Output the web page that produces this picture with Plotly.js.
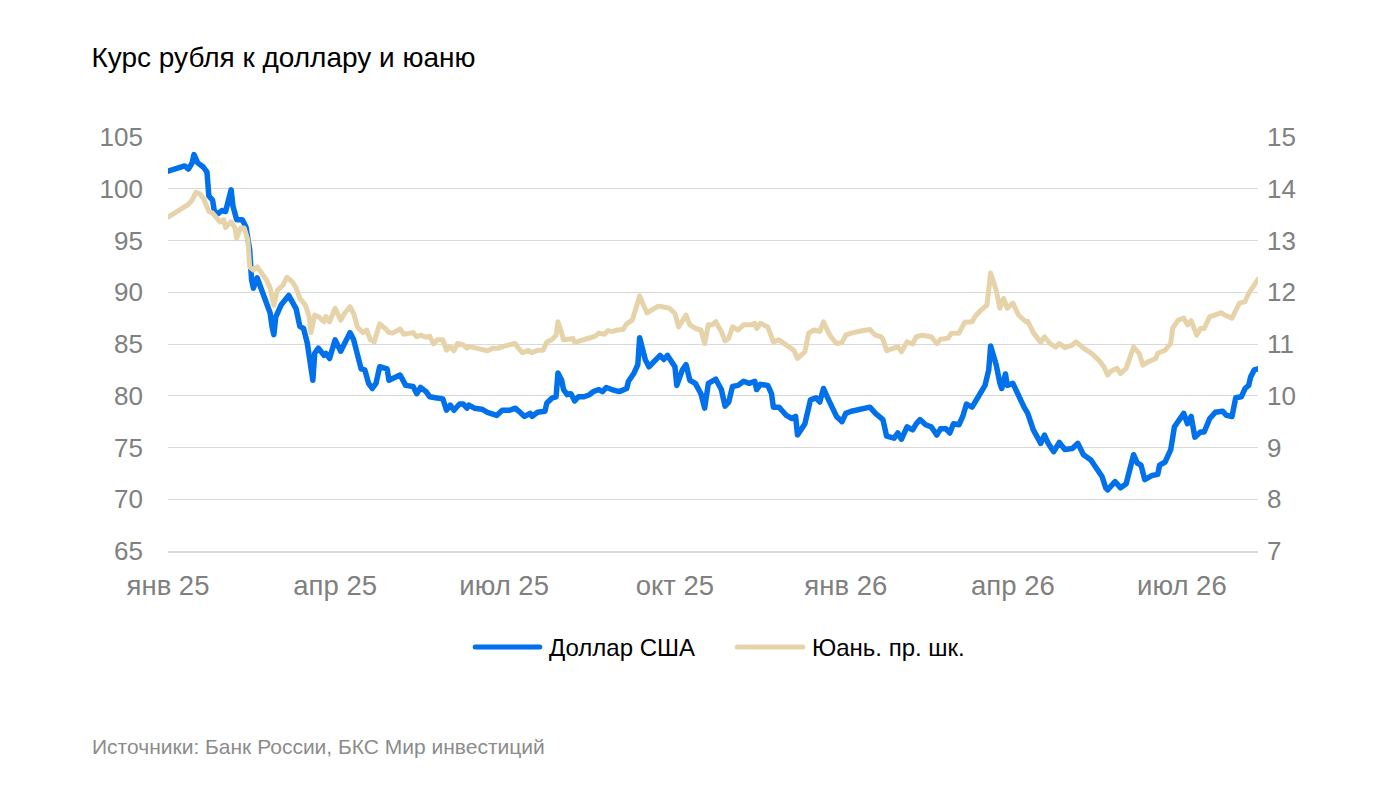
<!DOCTYPE html>
<html lang="ru">
<head>
<meta charset="utf-8">
<title>Курс рубля к доллару и юаню</title>
<script src="https://cdn.plot.ly/plotly-3.0.1.min.js"></script>
<style>
  html, body { margin: 0; padding: 0; background: #ffffff; }
  #chart { width: 1386px; height: 788px; }
  #chart .scatterlayer .js-line { stroke-linejoin: round; stroke-linecap: round; }
  #chart .shapelayer path { stroke-linecap: round; }
</style>
</head>
<body>
<div id="chart"></div>
<script>
// ============================================
// Курс рубля: доллар (левая шкала) и юань (правая шкала)
// ============================================

const usdDates = [
  '2025-01-01', '2025-01-10', '2025-01-12', '2025-01-14', '2025-01-15', '2025-01-17', '2025-01-20', '2025-01-22',
  '2025-01-23', '2025-01-25', '2025-01-26', '2025-01-28', '2025-01-30', '2025-02-01', '2025-02-04', '2025-02-05',
  '2025-02-07', '2025-02-10', '2025-02-12', '2025-02-14', '2025-02-15', '2025-02-16', '2025-02-18', '2025-02-19',
  '2025-02-22', '2025-02-25', '2025-02-26', '2025-02-27', '2025-02-28', '2025-03-03', '2025-03-07', '2025-03-09',
  '2025-03-11', '2025-03-13', '2025-03-15', '2025-03-17', '2025-03-18', '2025-03-20', '2025-03-21', '2025-03-23',
  '2025-03-26', '2025-03-27', '2025-03-29', '2025-04-01', '2025-04-04', '2025-04-07', '2025-04-09', '2025-04-11',
  '2025-04-13', '2025-04-15', '2025-04-17', '2025-04-19', '2025-04-21', '2025-04-23', '2025-04-25', '2025-04-29',
  '2025-04-30', '2025-05-02', '2025-05-06', '2025-05-09', '2025-05-13', '2025-05-15', '2025-05-17', '2025-05-20',
  '2025-05-22', '2025-05-25', '2025-05-29', '2025-05-31', '2025-06-02', '2025-06-04', '2025-06-07', '2025-06-09',
  '2025-06-11', '2025-06-12', '2025-06-15', '2025-06-19', '2025-06-22', '2025-06-27', '2025-06-30', '2025-07-04',
  '2025-07-07', '2025-07-09', '2025-07-12', '2025-07-15', '2025-07-16', '2025-07-19', '2025-07-23', '2025-07-24',
  '2025-07-27', '2025-07-29', '2025-07-30', '2025-08-01', '2025-08-02', '2025-08-04', '2025-08-06', '2025-08-08',
  '2025-08-10', '2025-08-13', '2025-08-16', '2025-08-18', '2025-08-21', '2025-08-23', '2025-08-25', '2025-08-28',
  '2025-09-01', '2025-09-05', '2025-09-06', '2025-09-09', '2025-09-11', '2025-09-12', '2025-09-14', '2025-09-15',
  '2025-09-17', '2025-09-21', '2025-09-23', '2025-09-25', '2025-09-27', '2025-10-01', '2025-10-02', '2025-10-05',
  '2025-10-07', '2025-10-09', '2025-10-12', '2025-10-15', '2025-10-17', '2025-10-19', '2025-10-21', '2025-10-23',
  '2025-10-26', '2025-10-28', '2025-10-30', '2025-11-01', '2025-11-04', '2025-11-07', '2025-11-10', '2025-11-13',
  '2025-11-14', '2025-11-16', '2025-11-20', '2025-11-22', '2025-11-23', '2025-11-26', '2025-11-28', '2025-11-30',
  '2025-12-03', '2025-12-05', '2025-12-06', '2025-12-09', '2025-12-10', '2025-12-13', '2025-12-16', '2025-12-18',
  '2025-12-20', '2025-12-22', '2025-12-25', '2025-12-27', '2025-12-30', '2026-01-01', '2026-01-04', '2026-01-09',
  '2026-01-14', '2026-01-17', '2026-01-20', '2026-01-21', '2026-01-23', '2026-01-27', '2026-01-29', '2026-01-31',
  '2026-02-03', '2026-02-06', '2026-02-08', '2026-02-10', '2026-02-13', '2026-02-16', '2026-02-19', '2026-02-21',
  '2026-02-24', '2026-02-26', '2026-02-28', '2026-03-03', '2026-03-05', '2026-03-07', '2026-03-10', '2026-03-12',
  '2026-03-14', '2026-03-17', '2026-03-19', '2026-03-20', '2026-03-23', '2026-03-25', '2026-03-26', '2026-03-28',
  '2026-03-29', '2026-04-01', '2026-04-04', '2026-04-07', '2026-04-09', '2026-04-12', '2026-04-16', '2026-04-18',
  '2026-04-20', '2026-04-23', '2026-04-26', '2026-04-29', '2026-05-03', '2026-05-06', '2026-05-09', '2026-05-13',
  '2026-05-16', '2026-05-19', '2026-05-21', '2026-05-22', '2026-05-26', '2026-05-29', '2026-06-01', '2026-06-03',
  '2026-06-05', '2026-06-07', '2026-06-09', '2026-06-11', '2026-06-15', '2026-06-18', '2026-06-19', '2026-06-22',
  '2026-06-25', '2026-06-27', '2026-06-29', '2026-07-02', '2026-07-04', '2026-07-06', '2026-07-08', '2026-07-11',
  '2026-07-13', '2026-07-16', '2026-07-19', '2026-07-23', '2026-07-25', '2026-07-28', '2026-07-30', '2026-08-02',
  '2026-08-04', '2026-08-06', '2026-08-07', '2026-08-09', '2026-08-11'
];
const usdValues = [
  101.7, 102.2, 101.9, 102.5, 103.3, 102.5, 102.1, 101.6,
  99.3, 98.9, 97.8, 97.6, 97.9, 97.8, 99.9, 98.3,
  97.0, 97.0, 96.3, 94.1, 91.2, 90.4, 91.4, 90.9,
  89.6, 88.0, 86.7, 85.9, 87.6, 88.8, 89.7, 88.9,
  88.4, 86.7, 86.5, 85.1, 84.1, 81.5, 84.1, 84.6,
  83.9, 84.1, 83.6, 85.4, 84.3, 85.4, 86.1, 85.4,
  83.8, 82.6, 82.5, 81.2, 80.7, 81.2, 82.8, 82.6,
  81.5, 81.7, 82.0, 81.0, 80.9, 80.2, 80.8, 80.4,
  79.9, 79.8, 79.7, 78.6, 79.1, 78.6, 79.2, 79.2,
  78.8, 79.1, 78.8, 78.7, 78.4, 78.1, 78.6, 78.6,
  78.8, 78.5, 78.0, 78.3, 78.0, 78.4, 78.5, 79.3,
  79.8, 79.9, 82.2, 81.5, 80.6, 80.1, 80.2, 79.5,
  79.9, 79.9, 80.1, 80.4, 80.6, 80.4, 80.8, 80.6,
  80.4, 80.7, 81.4, 82.2, 83.0, 85.6, 84.4, 83.5,
  82.8, 83.5, 83.9, 83.5, 83.9, 82.8, 81.0, 82.5,
  83.0, 81.5, 81.2, 80.2, 78.8, 81.2, 81.4, 81.6,
  80.6, 79.0, 79.4, 80.9, 81.0, 81.4, 81.2, 81.4,
  80.6, 81.1, 81.0, 80.2, 78.9, 78.9, 78.5, 78.1,
  77.8, 78.0, 76.2, 77.0, 77.3, 79.6, 79.8, 79.4,
  80.7, 79.9, 78.8, 78.0, 77.5, 78.3, 78.5, 78.7,
  78.9, 78.3, 77.8, 77.7, 76.1, 75.9, 76.4, 75.8,
  77.0, 76.7, 77.3, 77.7, 77.2, 77.0, 76.2, 76.8,
  76.8, 76.4, 77.3, 77.2, 78.0, 79.2, 78.9, 79.6,
  80.1, 81.0, 82.5, 84.8, 83.0, 81.2, 80.7, 82.1,
  81.0, 81.2, 79.9, 78.9, 78.3, 76.7, 75.4, 76.2,
  75.4, 74.6, 75.5, 74.8, 74.9, 75.4, 74.3, 73.8,
  73.0, 72.2, 71.1, 70.9, 71.7, 71.1, 71.5, 72.8,
  74.3, 73.5, 73.3, 71.9, 72.3, 72.4, 73.3, 73.6,
  74.8, 77.0, 77.5, 78.3, 77.3, 78.0, 76.0, 76.5,
  76.5, 77.8, 78.4, 78.5, 78.1, 78.0, 79.8, 79.9,
  80.7, 81.0, 81.8, 82.5, 82.6
];

const cnyDates = [
  '2025-01-01', '2025-01-06', '2025-01-10', '2025-01-12', '2025-01-14', '2025-01-16', '2025-01-18', '2025-01-20',
  '2025-01-22', '2025-01-23', '2025-01-25', '2025-01-27', '2025-01-29', '2025-01-31', '2025-02-01', '2025-02-04',
  '2025-02-06', '2025-02-07', '2025-02-09', '2025-02-11', '2025-02-13', '2025-02-14', '2025-02-16', '2025-02-18',
  '2025-02-20', '2025-02-23', '2025-02-25', '2025-02-27', '2025-02-28', '2025-03-01', '2025-03-04', '2025-03-06',
  '2025-03-09', '2025-03-11', '2025-03-13', '2025-03-16', '2025-03-18', '2025-03-19', '2025-03-21', '2025-03-23',
  '2025-03-26', '2025-03-27', '2025-03-29', '2025-04-01', '2025-04-04', '2025-04-06', '2025-04-09', '2025-04-11',
  '2025-04-13', '2025-04-16', '2025-04-18', '2025-04-20', '2025-04-22', '2025-04-25', '2025-04-28', '2025-04-30',
  '2025-05-02', '2025-05-06', '2025-05-08', '2025-05-13', '2025-05-15', '2025-05-17', '2025-05-20', '2025-05-22',
  '2025-05-24', '2025-05-26', '2025-05-29', '2025-05-31', '2025-06-02', '2025-06-04', '2025-06-06', '2025-06-09',
  '2025-06-11', '2025-06-12', '2025-06-16', '2025-06-20', '2025-06-22', '2025-06-25', '2025-06-28', '2025-07-01',
  '2025-07-04', '2025-07-07', '2025-07-08', '2025-07-11', '2025-07-14', '2025-07-16', '2025-07-19', '2025-07-22',
  '2025-07-24', '2025-07-27', '2025-07-29', '2025-07-30', '2025-08-01', '2025-08-02', '2025-08-05', '2025-08-07',
  '2025-08-08', '2025-08-11', '2025-08-15', '2025-08-19', '2025-08-21', '2025-08-24', '2025-08-26', '2025-08-28',
  '2025-08-31', '2025-09-03', '2025-09-05', '2025-09-08', '2025-09-10', '2025-09-12', '2025-09-14', '2025-09-16',
  '2025-09-19', '2025-09-22', '2025-09-24', '2025-09-28', '2025-10-01', '2025-10-03', '2025-10-07', '2025-10-09',
  '2025-10-12', '2025-10-15', '2025-10-17', '2025-10-19', '2025-10-21', '2025-10-23', '2025-10-26', '2025-10-28',
  '2025-10-30', '2025-11-01', '2025-11-04', '2025-11-07', '2025-11-11', '2025-11-13', '2025-11-14', '2025-11-16',
  '2025-11-20', '2025-11-22', '2025-11-23', '2025-11-26', '2025-11-29', '2025-12-01', '2025-12-04', '2025-12-06',
  '2025-12-09', '2025-12-10', '2025-12-12', '2025-12-15', '2025-12-18', '2025-12-20', '2025-12-22', '2025-12-24',
  '2025-12-27', '2025-12-30', '2026-01-01', '2026-01-04', '2026-01-09', '2026-01-14', '2026-01-17', '2026-01-20',
  '2026-01-21', '2026-01-23', '2026-01-27', '2026-01-29', '2026-01-31', '2026-02-03', '2026-02-06', '2026-02-08',
  '2026-02-11', '2026-02-16', '2026-02-19', '2026-02-21', '2026-02-25', '2026-02-27', '2026-03-03', '2026-03-06',
  '2026-03-10', '2026-03-12', '2026-03-15', '2026-03-18', '2026-03-20', '2026-03-23', '2026-03-25', '2026-03-27',
  '2026-03-29', '2026-04-01', '2026-04-04', '2026-04-08', '2026-04-09', '2026-04-12', '2026-04-16', '2026-04-18',
  '2026-04-21', '2026-04-24', '2026-04-26', '2026-04-29', '2026-05-03', '2026-05-05', '2026-05-09', '2026-05-13',
  '2026-05-17', '2026-05-20', '2026-05-22', '2026-05-24', '2026-05-27', '2026-05-29', '2026-06-01', '2026-06-03',
  '2026-06-05', '2026-06-08', '2026-06-10', '2026-06-13', '2026-06-17', '2026-06-18', '2026-06-22', '2026-06-25',
  '2026-06-26', '2026-06-29', '2026-07-02', '2026-07-04', '2026-07-06', '2026-07-09', '2026-07-11', '2026-07-13',
  '2026-07-16', '2026-07-19', '2026-07-22', '2026-07-24', '2026-07-28', '2026-08-01', '2026-08-04', '2026-08-06',
  '2026-08-09', '2026-08-11'
];
const cnyValues = [
  13.45, 13.56, 13.67, 13.70, 13.78, 13.93, 13.90, 13.82,
  13.65, 13.56, 13.53, 13.43, 13.36, 13.40, 13.25, 13.36,
  13.25, 13.04, 13.24, 13.24, 13.01, 12.49, 12.43, 12.49,
  12.40, 12.24, 12.08, 11.75, 11.91, 12.04, 12.14, 12.29,
  12.20, 12.08, 11.88, 11.75, 11.53, 11.22, 11.56, 11.53,
  11.43, 11.53, 11.43, 11.69, 11.46, 11.59, 11.72, 11.59,
  11.33, 11.22, 11.27, 11.08, 11.04, 11.39, 11.30, 11.22,
  11.21, 11.29, 11.19, 11.22, 11.14, 11.17, 11.13, 11.15,
  11.00, 11.08, 11.08, 10.88, 10.95, 10.87, 11.01, 10.98,
  10.92, 10.95, 10.92, 10.88, 10.87, 10.92, 10.92, 10.96,
  10.98, 11.01, 10.95, 10.83, 10.88, 10.83, 10.88, 10.88,
  11.04, 11.09, 11.17, 11.43, 11.21, 11.08, 11.09, 11.11,
  11.03, 11.06, 11.09, 11.15, 11.21, 11.19, 11.26, 11.24,
  11.27, 11.28, 11.39, 11.46, 11.69, 11.93, 11.75, 11.60,
  11.67, 11.73, 11.72, 11.69, 11.59, 11.33, 11.56, 11.37,
  11.30, 11.27, 11.01, 11.37, 11.37, 11.43, 11.24, 11.06,
  11.11, 11.33, 11.27, 11.37, 11.37, 11.40, 11.30, 11.40,
  11.33, 11.17, 11.04, 11.08, 11.01, 10.95, 10.88, 10.72,
  10.81, 10.85, 11.21, 11.27, 11.24, 11.43, 11.27, 11.14,
  11.01, 11.03, 11.17, 11.21, 11.25, 11.28, 11.17, 11.14,
  11.09, 10.87, 10.92, 10.95, 10.85, 11.04, 11.00, 11.14,
  11.17, 11.14, 11.01, 11.09, 11.11, 11.21, 11.21, 11.42,
  11.43, 11.55, 11.66, 11.75, 12.37, 12.04, 11.69, 11.88,
  11.69, 11.79, 11.56, 11.43, 11.44, 11.22, 11.03, 11.14,
  11.01, 10.94, 11.01, 10.93, 10.98, 11.04, 10.92, 10.83,
  10.70, 10.56, 10.40, 10.48, 10.53, 10.43, 10.53, 10.75,
  10.94, 10.82, 10.59, 10.66, 10.72, 10.82, 10.88, 11.01,
  11.30, 11.46, 11.50, 11.37, 11.45, 11.17, 11.30, 11.30,
  11.53, 11.56, 11.61, 11.56, 11.50, 11.79, 11.82, 11.98,
  12.17, 12.25
];

const xRange = ['2025-01-01', '2026-08-11'];
const xTickVals = ['2025-01-01', '2025-04-01', '2025-07-01', '2025-10-01', '2026-01-01', '2026-04-01', '2026-07-01'];
const xTickText = ['янв 25', 'апр 25', 'июл 25', 'окт 25', 'янв 26', 'апр 26', 'июл 26'];

const seriesNames = ['Доллар США', 'Юань. пр. шк.'];
const seriesColors = ['#0070eb', '#e6d3a9'];

const FONT = 'Liberation Sans, Arial, Helvetica, sans-serif';
const yTickFont = { family: FONT, size: 26, color: '#808080' };
const xTickFont = { family: FONT, size: 27.5, color: '#808080' };

const data = [
  {
    x: usdDates,
    y: usdValues,
    name: seriesNames[0],
    type: 'scatter',
    mode: 'lines',
    yaxis: 'y',
    line: { color: seriesColors[0], width: 5.5 }
  },
  {
    x: cnyDates,
    y: cnyValues,
    name: seriesNames[1],
    type: 'scatter',
    mode: 'lines',
    yaxis: 'y2',
    line: { color: seriesColors[1], width: 5 }
  }
];

// legend drawn by hand: longer line samples than the built-in legend allows
const legendY = -0.232;
const shapes = [
  { type: 'line', xref: 'paper', yref: 'paper', x0: 0.2818, x1: 0.3411, y0: legendY, y1: legendY,
    line: { color: seriesColors[0], width: 5 } },
  { type: 'line', xref: 'paper', yref: 'paper', x0: 0.5222, x1: 0.5824, y0: legendY, y1: legendY,
    line: { color: seriesColors[1], width: 5 } }
];

const annotations = [
  { xref: 'paper', yref: 'paper', x: 0.3477, y: legendY, xanchor: 'left', yanchor: 'middle',
    text: seriesNames[0], showarrow: false, font: { family: FONT, size: 24, color: '#000000' } },
  { xref: 'paper', yref: 'paper', x: 0.589, y: legendY, xanchor: 'left', yanchor: 'middle',
    text: seriesNames[1], showarrow: false, font: { family: FONT, size: 24, color: '#000000' } },
  { xref: 'paper', yref: 'paper', x: -0.0716, y: -0.473, xanchor: 'left', yanchor: 'middle',
    text: 'Источники: Банк России, БКС Мир инвестиций', showarrow: false,
    font: { family: FONT, size: 21, color: '#8c8c8c' } }
];

const layout = {
  width: 1386,
  height: 788,
  paper_bgcolor: '#ffffff',
  plot_bgcolor: '#ffffff',
  margin: { t: 137, r: 128, b: 237, l: 168 },
  showlegend: false,
  title: {
    text: 'Курс рубля к доллару и юаню',
    x: 0.066,
    xanchor: 'left',
    xref: 'container',
    y: 0.928,
    yanchor: 'middle',
    yref: 'container',
    font: { family: FONT, size: 28, color: '#000000' }
  },
  xaxis: {
    type: 'date',
    range: xRange,
    tickvals: xTickVals,
    ticktext: xTickText,
    tickfont: xTickFont,
    showgrid: false,
    showline: true,
    linecolor: '#d9d9d9',
    linewidth: 2,
    ticks: '',
    ticklabelstandoff: 9,
    fixedrange: true
  },
  yaxis: {
    range: [65, 105],
    dtick: 5,
    tick0: 65,
    tickfont: yTickFont,
    gridcolor: '#d9d9d9',
    gridwidth: 1,
    zeroline: false,
    showline: false,
    ticks: '',
    ticklabelstandoff: 24,
    fixedrange: true
  },
  yaxis2: {
    range: [7, 15],
    dtick: 1,
    tick0: 7,
    overlaying: 'y',
    side: 'right',
    tickfont: yTickFont,
    showgrid: false,
    zeroline: false,
    showline: false,
    ticks: '',
    ticklabelstandoff: 8,
    fixedrange: true
  },
  shapes: shapes,
  annotations: annotations
};

Plotly.newPlot('chart', data, layout, { displayModeBar: false, responsive: false });
</script>
</body>
</html>
